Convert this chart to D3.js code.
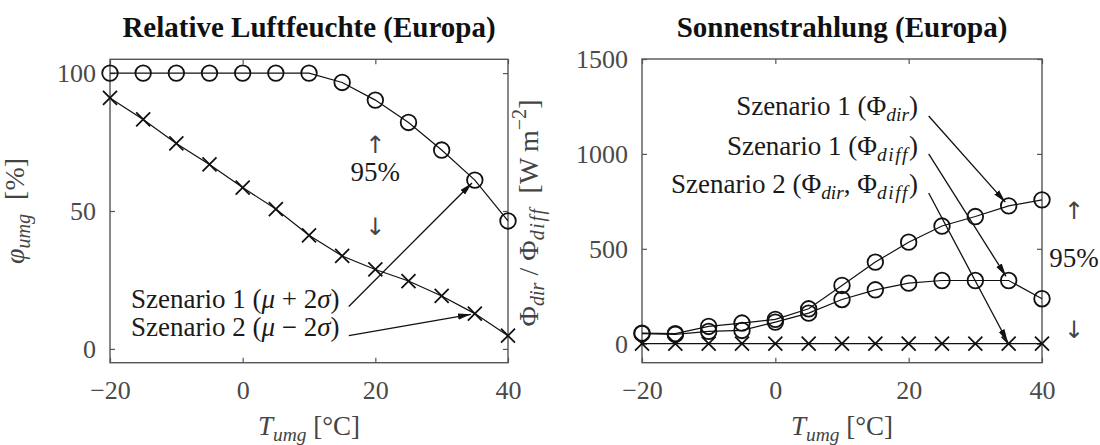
<!DOCTYPE html>
<html><head><meta charset="utf-8">
<script src="https://cdn.jsdelivr.net/npm/d3@7"></script>
<style>html,body{margin:0;padding:0;background:#fff;}svg{display:block;}</style>
</head><body>
<script>
// ---- data ----
const temps = [-20, -15, -10, -5, 0, 5, 10, 15, 20, 25, 30, 35, 40];
const humScen1 = [100, 100, 100, 100, 100, 100, 100, 96.6, 90.2, 82.1, 72.1, 61.2, 46.4];
const humScen2 = [91.0, 83.2, 74.5, 66.9, 58.5, 50.7, 41.2, 33.7, 28.8, 24.6, 19.2, 12.8, 4.8];
const radScen1Dir = [56, 53, 91, 109, 128, 184, 307, 430, 535, 620, 670, 726, 758];
const radScen1Diff = [53, 49, 65, 70, 114, 161, 233, 284, 319, 333, 333, 333, 237];
const radScen2 = [0, 0, 0, 0, 0, 0, 0, 0, 0, 0, 0, 0, 0];
const xTicks = [-20, 0, 20, 40];
const humTicks = [0, 50, 100];
const radTicks = [0, 500, 1000, 1500];
const titles = ["Relative Luftfeuchte (Europa)", "Sonnenstrahlung (Europa)"];

const W = 1100, H = 445;
const FONT = "Liberation Serif, Times New Roman, serif";
const ARROWFONT = "DejaVu Sans, sans-serif";
const svg = d3.select("body").append("svg").attr("width", W).attr("height", H)
  .attr("font-family", FONT);

svg.append("defs").append("marker")
  .attr("id", "ah").attr("markerUnits", "userSpaceOnUse")
  .attr("markerWidth", 14).attr("markerHeight", 8)
  .attr("refX", 13).attr("refY", 4).attr("orient", "auto")
  .append("path").attr("d", "M0,0.8 L13,4 L0,7.2 Z").attr("fill", "#111");

function rich(textSel, parts, size) {
  let shift = 0;
  parts.forEach(p => {
    const target = p.sub ? size * 0.22 : (p.sup ? -size * 0.42 : 0);
    const ts = textSel.append("tspan").text(p.t)
      .attr("dy", target - shift)
      .attr("font-size", (p.sub || p.sup) ? size * 0.72 : size);
    if (p.i) ts.attr("font-style", "italic");
    if (p.ls) ts.attr("letter-spacing", p.ls);
    shift = target;
  });
  return textSel;
}

function panel(x, y, yTicks, title) {
  const g = svg.append("g");
  const [x0, x1] = x.range();
  const [y1, y0] = y.range();
  const axCol = "#555";
  const tick = 5;
  const fmt = d3.format("d");
  const gb = g.append("g").attr("transform", `translate(0,${y1})`)
    .call(d3.axisBottom(x).tickValues(xTicks).tickFormat(fmt).tickSizeInner(-tick).tickSizeOuter(0).tickPadding(18));
  const gt = g.append("g").attr("transform", `translate(0,${y0})`)
    .call(d3.axisTop(x).tickValues(xTicks).tickSizeInner(-tick).tickSizeOuter(0).tickFormat(""));
  const gl = g.append("g").attr("transform", `translate(${x0},0)`)
    .call(d3.axisLeft(y).tickValues(yTicks).tickFormat(fmt).tickSizeInner(-tick).tickSizeOuter(0).tickPadding(14));
  const gr = g.append("g").attr("transform", `translate(${x1},0)`)
    .call(d3.axisRight(y).tickValues(yTicks).tickSizeInner(-tick).tickSizeOuter(0).tickFormat(""));
  [gb, gt, gl, gr].forEach(a => {
    a.attr("font-family", FONT);
    a.select(".domain").remove();
    a.selectAll(".tick line").attr("stroke", axCol).attr("stroke-width", 1.2);
    a.selectAll(".tick text").attr("fill", "#4a4a4a").attr("font-size", 26);
  });
  g.append("rect").attr("x", x0).attr("y", y0).attr("width", x1 - x0).attr("height", y1 - y0)
    .attr("fill", "none").attr("stroke", axCol).attr("stroke-width", 1.4);
  g.append("text").attr("x", (x0 + x1) / 2).attr("y", 37).attr("text-anchor", "middle")
    .attr("font-weight", "bold").attr("font-size", 29).attr("fill", "#111").text(title);
  rich(g.append("text").attr("x", (x0 + x1) / 2).attr("y", 435).attr("text-anchor", "middle").attr("fill", "#444"),
    [{t: "T", i: true}, {t: "umg", i: true, sub: true}, {t: " [°C]"}], 27);
  return g;
}

function series(g, x, y, vals, marker) {
  const pts = temps.map((t, i) => [t, vals[i]]);
  g.append("path").datum(pts)
    .attr("d", d3.line().x(d => x(d[0])).y(d => y(d[1])))
    .attr("fill", "none").attr("stroke", "#111").attr("stroke-width", 1.2);
  const m = g.append("g");
  if (marker === "o") {
    m.selectAll("circle").data(pts).join("circle")
      .attr("cx", d => x(d[0])).attr("cy", d => y(d[1])).attr("r", 7.8)
      .attr("fill", "none").attr("stroke", "#111").attr("stroke-width", 1.8);
  } else {
    const s = 7;
    m.selectAll("path").data(pts).join("path")
      .attr("d", d => { const cx = x(d[0]), cy = y(d[1]);
        return `M${cx - s},${cy - s}L${cx + s},${cy + s}M${cx - s},${cy + s}L${cx + s},${cy - s}`; })
      .attr("fill", "none").attr("stroke", "#111").attr("stroke-width", 1.8);
  }
}

function arrow(g, x, y, from, to, shorten) {
  const x1 = x(from[0]), y1 = y(from[1]);
  let x2 = x(to[0]), y2 = y(to[1]);
  const dx = x2 - x1, dy = y2 - y1, L = Math.hypot(dx, dy);
  x2 -= dx / L * shorten; y2 -= dy / L * shorten;
  g.append("line").attr("x1", x1).attr("y1", y1).attr("x2", x2).attr("y2", y2)
    .attr("stroke", "#111").attr("stroke-width", 1.3).attr("marker-end", "url(#ah)");
}

function label(g, x, y, pos, anchor, parts, size) {
  return rich(g.append("text").attr("x", x(pos[0])).attr("y", y(pos[1])).attr("dy", "0.35em")
    .attr("text-anchor", anchor).attr("fill", "#1a1a1a"), parts, size);
}
function sym(g, x, y, pos, ch) {
  return g.append("text").attr("x", x(pos[0])).attr("y", y(pos[1])).attr("dy", "0.35em")
    .attr("text-anchor", "middle").attr("fill", "#444").attr("font-family", ARROWFONT)
    .attr("font-size", 24).text(ch);
}

// ---- left panel ----
const xL = d3.scaleLinear().domain([-20, 40]).range([110, 508]);
const yL = d3.scaleLinear().domain([-5, 105]).range([362.7, 59.3]);
const gL = panel(xL, yL, humTicks, titles[0]);
series(gL, xL, yL, humScen1, "o");
series(gL, xL, yL, humScen2, "x");
label(gL, xL, yL, [14.6, 15.0], "end", [{t: "Szenario 1 ("}, {t: "μ", i: true}, {t: " + 2"}, {t: "σ", i: true}, {t: ")"}], 27);
label(gL, xL, yL, [14.6, 4.8], "end", [{t: "Szenario 2 ("}, {t: "μ", i: true}, {t: " − 2"}, {t: "σ", i: true}, {t: ")"}], 27);
arrow(gL, xL, yL, [16.0, 15.4], [35, humScen1[11]], 4);
arrow(gL, xL, yL, [16.0, 4.8], [35, humScen2[11]], 4);
sym(gL, xL, yL, [20, 74.2], "↑");
label(gL, xL, yL, [20, 60.7], "middle", [{t: "95%"}], 27);
sym(gL, xL, yL, [20, 44.2], "↓");
rich(gL.append("text").attr("transform", "translate(24,211) rotate(-90)").attr("dy", "0.35em")
  .attr("text-anchor", "middle").attr("fill", "#444"),
  [{t: "φ", i: true}, {t: "umg", i: true, sub: true}, {t: "\u2002[%]"}], 28);

// ---- right panel ----
const xR = d3.scaleLinear().domain([-20, 40]).range([642, 1042]);
const yR = d3.scaleLinear().domain([-100, 1500]).range([362.7, 59]);
const gR = panel(xR, yR, radTicks, titles[1]);
series(gR, xR, yR, radScen1Dir, "o");
series(gR, xR, yR, radScen1Diff, "o");
series(gR, xR, yR, radScen2, "x");
label(gR, xR, yR, [21.4, 1205], "end", [{t: "Szenario 1 (Φ"}, {t: "dir", i: true, sub: true}, {t: ")"}], 27);
label(gR, xR, yR, [21.4, 994], "end", [{t: "Szenario 1 (Φ"}, {t: "diff", i: true, sub: true, ls: 1.5}, {t: ")"}], 27);
label(gR, xR, yR, [21.4, 794], "end", [{t: "Szenario 2 (Φ"}, {t: "dir", i: true, sub: true}, {t: ", Φ"}, {t: "diff", i: true, sub: true, ls: 1.5}, {t: ")"}], 27);
arrow(gR, xR, yR, [23.0, 1200], [35, radScen1Dir[11]], 5);
arrow(gR, xR, yR, [23.0, 1000], [35, radScen1Diff[11]], 5);
arrow(gR, xR, yR, [23.0, 794], [35, radScen2[11]], 2);
sym(gR, xR, yR, [44.8, 699], "↑");
label(gR, xR, yR, [44.8, 404], "middle", [{t: "95%"}], 27);
sym(gR, xR, yR, [44.8, 72], "↓");
rich(gR.append("text").attr("transform", "translate(538,213) rotate(-90)").attr("dy", "0.35em")
  .attr("text-anchor", "middle").attr("fill", "#444"),
  [{t: "Φ"}, {t: "dir", i: true, sub: true}, {t: " / Φ"}, {t: "diff", i: true, sub: true, ls: 1.5},
   {t: "\u2002[W\u2009m"}, {t: "−2", sup: true}, {t: "]"}], 28);
</script>
</body></html>
